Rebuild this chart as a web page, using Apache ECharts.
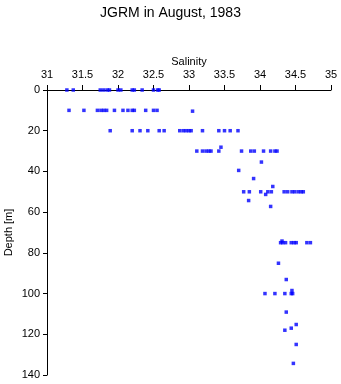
<!DOCTYPE html>
<html><head><meta charset="utf-8">
<script src="https://cdn.jsdelivr.net/npm/echarts@6/dist/echarts.min.js"></script>
<style>html,body{margin:0;padding:0;background:#fff}#c{width:341px;height:384px}</style>
</head><body><div id="c"></div>
<script>
const titleText = "JGRM in August, 1983";
const xName = "Salinity";
const yName = "Depth [m]";
const xTicks = [31, 31.5, 32, 32.5, 33, 33.5, 34, 34.5, 35];
const yTicks = [0, 20, 40, 60, 80, 100, 120, 140];

const salinity = [
  31.28,31.37,31.75,31.80,31.85,31.88,32.00,32.04,32.20,32.23,32.34,32.50,32.56,32.58,
  31.31,31.52,31.71,31.76,31.80,31.84,31.95,32.07,32.14,32.20,32.23,32.39,32.50,32.55,33.05,
  31.89,32.20,32.31,32.42,32.58,32.65,32.87,32.92,32.96,33.00,33.03,33.19,33.42,33.50,33.58,33.69,
  33.45,
  33.11,33.19,33.24,33.28,33.31,33.42,33.74,33.87,33.92,34.05,34.15,34.21,34.24,
  34.02,33.70,33.91,34.18,
  33.77,33.85,34.01,34.11,34.16,34.34,34.39,34.45,34.49,34.54,34.58,34.61,
  34.08,33.84,34.15,
  34.31,34.29,34.32,34.36,34.44,34.48,34.51,34.66,34.71,
  34.26,34.37,
  34.07,34.21,34.35,34.44,34.46,34.45,
  34.37,34.51,34.44,34.35,34.51,34.47
];
const depth = [
  0,0,0,0,0,0,0,0,0,0,0,0,0,0,
  10,10,10,10,10,10,10,10,10,10,10,10,10,10,10.4,
  20,20,20,20,20,20,20,20,20,20,20,20,20,20,20,20,
  28.1,
  30,30,30,30,30,30,30,30,30,30,30,30,30,
  35.4,39.5,43.5,47.4,
  50,50,50,50,50,50,50,50,50,50,50,50,
  51.3,54.3,57.2,
  74.2,75,75,75,75,75,75,75,75,
  85.1,93.1,
  100,100,100,100,100,98.5,
  109.1,115.2,117,118,125,134.3
];

const pts = salinity.map((s, i) => [s, depth[i]]);
const font = "Liberation Sans, Arial, sans-serif";
const chart = echarts.init(document.getElementById('c'), null, {renderer: 'canvas'});
chart.setOption({
  animation: false,
  backgroundColor: '#fff',
  title: {
    text: titleText, left: 'center', top: 1,
    textStyle: {fontFamily: font, fontSize: 14, fontWeight: 'normal', color: '#000'}
  },
  grid: {left: 47, right: 10, top: 90, bottom: 9, containLabel: false, outerBoundsMode: 'none'},
  xAxis: {
    type: 'value', position: 'top', min: xTicks[0], max: xTicks[xTicks.length-1], interval: 0.5,
    name: xName, nameLocation: 'middle', nameGap: 23, nameMoveOverlap: false,
    nameTextStyle: {fontFamily: font, fontSize: 11, color: '#000'},
    axisLine: {show: true, lineStyle: {color: '#000', width: 1}},
    axisTick: {show: true, length: 5, lineStyle: {color: '#000'}},
    axisLabel: {fontFamily: font, fontSize: 11, color: '#000', margin: 10},
    splitLine: {show: false}
  },
  yAxis: {
    type: 'value', inverse: true, min: yTicks[0], max: yTicks[yTicks.length-1], interval: 20,
    name: yName, nameLocation: 'middle', nameGap: 33, nameRotate: 90, nameMoveOverlap: false,
    nameTextStyle: {fontFamily: font, fontSize: 11, color: '#000'},
    axisLine: {show: true, lineStyle: {color: '#000', width: 1}},
    axisTick: {show: true, length: 4, lineStyle: {color: '#000'}},
    axisLabel: {fontFamily: font, fontSize: 11, color: '#000', margin: 7},
    splitLine: {show: false}
  },
  series: [{
    type: 'scatter', data: pts, symbol: 'rect', symbolSize: 3.5,
    itemStyle: {color: '#0000ff'}
  }]
});
</script></body></html>
